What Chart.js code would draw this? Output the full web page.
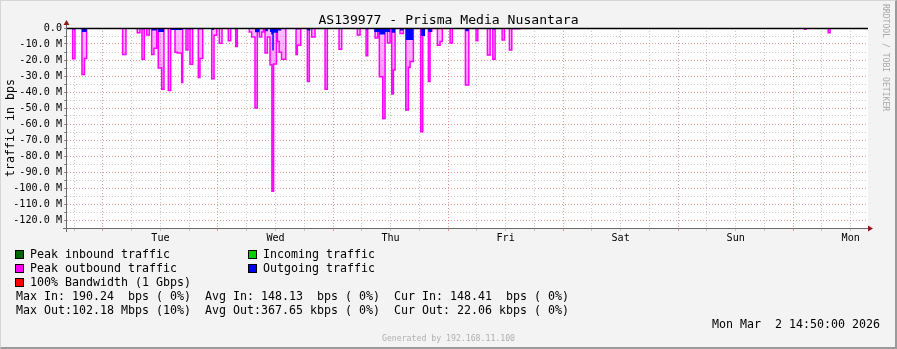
<!DOCTYPE html>
<html>
<head>
<meta charset="utf-8">
<title>AS139977 - Prisma Media Nusantara</title>
<script src="https://cdn.jsdelivr.net/npm/chart.js@4.4.1/dist/chart.umd.min.js"></script>
<style>
  html, body { margin: 0; padding: 0; background: #f3f3f3; }
  #myChart { position: absolute; left: 0; top: 0; }
  #frame { position: absolute; left: 0; top: 0; width: 897px; height: 349px; box-sizing: border-box;
           border-top: 1px solid #d6d6d6; border-left: 1px solid #d6d6d6;
           border-right: 2px solid #9a9a9a; border-bottom: 2px solid #9a9a9a; pointer-events: none; }
  .txt { position: absolute; font-family: 'DejaVu Sans Mono', monospace; font-size: 11.63px;
         line-height: 14px; color: #000; white-space: pre; }
  .box { position: absolute; width: 7px; height: 7px; border: 1px solid #000; }
  #title { left: 0; width: 897px; top: 12px; text-align: center; font-size: 13.1px; line-height: 15px; }
  #mark { left: 881px; top: 4px; font-size: 8.1px; line-height: 9px; color: #a8a8a8; writing-mode: vertical-rl; }
  #gen { left: 0; width: 897px; top: 333px; text-align: center; font-size: 8.2px; line-height: 10px; color: #b0b0b0; }
</style>
</head>
<body>
<canvas id="myChart" width="897" height="349"></canvas>

<div class="txt" id="title">AS139977 - Prisma Media Nusantara</div>
<div class="txt" id="mark">RRDTOOL / TOBI OETIKER</div>

<div class="box" style="left:15px;top:250px;background:#006600"></div>
<div class="txt" style="left:30px;top:247px">Peak inbound traffic</div>
<div class="box" style="left:248px;top:250px;background:#00cc00"></div>
<div class="txt" style="left:263px;top:247px">Incoming traffic</div>
<div class="box" style="left:15px;top:264px;background:#ff00ff"></div>
<div class="txt" style="left:30px;top:261px">Peak outbound traffic</div>
<div class="box" style="left:248px;top:264px;background:#0000ff"></div>
<div class="txt" style="left:263px;top:261px">Outgoing traffic</div>
<div class="box" style="left:15px;top:278px;background:#ff0000"></div>
<div class="txt" style="left:30px;top:275px">100% Bandwidth (1 Gbps)</div>
<div class="txt" style="left:16px;top:289px">Max In: 190.24  bps ( 0%)  Avg In: 148.13  bps ( 0%)  Cur In: 148.41  bps ( 0%)</div>
<div class="txt" style="left:16px;top:303px">Max Out:102.18 Mbps (10%)  Avg Out:367.65 kbps ( 0%)  Cur Out: 22.06 kbps ( 0%)</div>
<div class="txt" style="right:17px;top:317px">Mon Mar  2 14:50:00 2026</div>
<div class="txt" id="gen">Generated by 192.168.11.100</div>
<div id="frame"></div>

<script>
// x values are hours counted from Tue 00:00, graph ends Mon 14:50
const dayNames = ['Tue', 'Wed', 'Thu', 'Fri', 'Sat', 'Sun', 'Mon'];
const xStart = -7.5;
const xEnd = 159.6;

// peak outbound (Mbit/s, drawn negative), each value holds until the next time
const peakOutTimes = [-7.5, -6.32, -5.84, -4.38, -3.86, -3.4, 4.11, 4.8, 7.16, 7.72, 8.14, 8.62, 9.12, 9.66,
  10.16, 10.64, 11.21, 11.54, 12.25, 12.73, 13.63, 14.13, 15.03, 15.51, 16.42, 16.63, 17.32, 17.74, 18.16, 18.72,
  19.89, 20.24, 20.81, 22.69, 23.17, 23.73, 24.27, 24.84, 26.15, 26.65, 27.69, 28.03, 30.53, 31.03, 31.72, 32.2,
  32.62, 33.12, 33.5, 33.81, 34.29, 34.85, 35.25, 35.6, 36.2, 36.4, 36.75, 37.25, 38.15, 40.28, 40.55, 41.26,
  42.64, 43.05, 43.55, 44.24, 46.33, 46.81, 49.25, 49.81, 53.07, 53.64, 54.89, 55.24, 56.77, 57.33, 57.66, 58.37,
  58.85, 59.33, 59.9, 60.25, 60.59, 60.94, 61.98, 62.67, 63.17, 63.72, 64.07, 64.76, 66.3, 66.72, 67.89, 68.24,
  68.6, 69.77, 70.33, 70.8, 72.42, 72.9, 75.61, 76.32, 77.84, 78.2, 80.2, 80.77, 81.33, 81.81, 83.27, 83.75,
  84.79, 85.29, 87.0, 146.4, 146.7, 151.3, 151.7, 159.6];
const peakOutValues = [0, -19.2, 0, -29, -19, 0, -16.5, 0, -3, 0, -19.6, 0, -4.4, 0,
  -16.5, -12.7, 0, -25, -38.3, 0, -39, 0, -15.2, -15.6, -34, 0, -13.7, 0, -22.7, 0,
  -31, -19, 0, -31.7, -4.6, 0, -9.6, 0, -8, 0, -11.5, 0, -2.5, -5.6, -50, 0,
  -5.6, -2.5, 0, -15.6, -5.6, -23, -102, -22.5, -1, -8.5, -15.2, -19.6, 0, -16.5, -10.8, 0,
  -33.5, 0, -5.6, 0, -38.3, 0, -13.3, 0, -4.4, 0, -17.3, 0, -6.3, 0, -30.4, -56.5,
  -2, -9.4, 0, -41.3, -26.3, 0, -3.5, 0, -51.3, -24.6, -21, 0, -64.8, 0, -33.5, -2,
  0, -10.8, -8.5, 0, -9.4, 0, -35.6, 0, -8, 0, -16.9, 0, -19.6, 0, -7.5, 0,
  -13.7, -0.5, 0, -0.8, 0, -3, 0, 0];

// outgoing traffic average (Mbit/s, drawn negative)
const avgOutTimes = [-7.5, -6.32, -5.84, -4.38, -3.4, 4.11, 4.8, 8.14, 8.62, 10.16, 11.21, 11.54, 12.73, 14.13,
  16.63, 17.74, 18.72, 19.89, 20.81, 22.69, 23.17, 27.69, 28.03, 31.72, 32.62, 33.81, 34.4, 34.85, 35.1, 35.33,
  35.63, 36.5, 37.2, 40.28, 41.26, 42.64, 43.26, 54.89, 55.24, 56.6, 57.66, 58.85, 59.9, 60.25, 60.94, 61.98,
  62.67, 63.17, 64.76, 66.3, 67.2, 67.89, 68.6, 75.61, 76.32, 81.33, 81.81, 159.6];
const avgOutValues = [0, -1, 0, -2.5, 0, -0.5, 0, -0.8, 0, -1.5, -0.5, -2.5, 0, -1.2,
  0, -0.8, 0, -0.8, 0, -1.3, 0, -0.8, 0, -2.6, 0, -2, 0, -2.5, -4, -14,
  -3, -1.5, 0, -0.8, 0, -1.5, 0, -1, 0, -2.5, -4, -2.5, 0, -3, 0, -1.5,
  0, -7.5, 0, -5, 0, -2.5, 0, -2, 0, -1, 0, 0];

const redGrid = 'rgba(200,60,60,0.5)';
const grayGrid = 'rgba(140,140,140,0.45)';
const monoFont = 'DejaVu Sans Mono';

const peakOut = peakOutTimes.map((t, i) => ({ x: t, y: peakOutValues[i] }));
const avgOut = avgOutTimes.map((t, i) => ({ x: t, y: avgOutValues[i] }));

// white canvas, zero line, axes and arrows like rrdtool
const rrdLook = {
  id: 'rrdLook',
  beforeDraw(chart) {
    const a = chart.chartArea, c = chart.ctx;
    c.save();
    c.fillStyle = '#ffffff';
    c.fillRect(a.left, a.top, a.right - a.left, a.bottom - a.top);
    c.restore();
  },
  afterDatasetsDraw(chart) {
    const a = chart.chartArea, c = chart.ctx;
    const y0 = Math.round(chart.scales.y.getPixelForValue(0)) + 0.5;
    c.save();
    c.strokeStyle = '#000';
    c.lineWidth = 1.6;
    c.beginPath(); c.moveTo(a.left, y0); c.lineTo(a.right, y0); c.stroke();

    c.strokeStyle = '#6a6a6a';
    c.lineWidth = 1;
    c.beginPath();
    c.moveTo(a.left - 0.5, a.bottom + 4); c.lineTo(a.left - 0.5, a.top - 4);
    c.moveTo(a.left - 4, a.bottom + 0.5); c.lineTo(a.right + 1, a.bottom + 0.5);
    c.stroke();

    c.fillStyle = '#8c1c1c';
    c.beginPath();
    c.moveTo(a.left - 3.5, a.top - 3); c.lineTo(a.left + 2.5, a.top - 3); c.lineTo(a.left - 0.5, a.top - 8);
    c.closePath(); c.fill();
    c.beginPath();
    c.moveTo(a.right, a.bottom - 2.5); c.lineTo(a.right, a.bottom + 3.5); c.lineTo(a.right + 5, a.bottom + 0.5);
    c.closePath(); c.fill();
    c.restore();
  }
};

const ctx = document.getElementById('myChart').getContext('2d');
const myChart = new Chart(ctx, {
  type: 'line',
  data: {
    datasets: [
      {
        label: 'Outgoing traffic',
        data: avgOut,
        stepped: true,
        fill: 'origin',
        backgroundColor: '#0000ff',
        borderColor: 'rgba(0,0,0,0)',
        borderWidth: 0,
        pointRadius: 0
      },
      {
        label: 'Peak outbound traffic',
        data: peakOut,
        stepped: true,
        fill: 'origin',
        borderColor: '#ff00ff',
        borderWidth: 1.5,
        pointRadius: 0,
        backgroundColor: (c) => {
          const area = c.chart.chartArea;
          if (!area) return 'rgba(255,0,255,0.4)';
          const g = c.chart.ctx.createLinearGradient(0, area.top, 0, area.bottom);
          g.addColorStop(0, 'rgba(255,0,255,0.25)');
          g.addColorStop(0.4, 'rgba(255,0,255,0.5)');
          g.addColorStop(1, 'rgba(255,0,255,0.95)');
          return g;
        }
      }
    ]
  },
  options: {
    responsive: false,
    animation: false,
    devicePixelRatio: 1,
    layout: { padding: { top: 28, right: 29, left: 0, bottom: 0 } },
    plugins: { legend: { display: false }, tooltip: { enabled: false } },
    scales: {
      x: {
        type: 'linear',
        min: xStart,
        max: xEnd,
        afterFit(s) { s.height = 121; },
        ticks: {
          stepSize: 6,
          includeBounds: false,
          autoSkip: false,
          maxRotation: 0,
          padding: 1,
          color: '#000',
          font: { family: monoFont, size: 10.15 },
          callback: (v) => (v % 24 === 12 ? dayNames[(v - 12) / 24] : '')
        },
        grid: {
          color: (c) => (c.tick && c.tick.value % 24 === 0 ? redGrid : grayGrid),
          tickColor: (c) => (c.tick && c.tick.value % 24 === 0 ? redGrid : grayGrid),
          tickLength: 3
        },
        border: { display: false, dash: [1, 2] }
      },
      y: {
        min: -125,
        max: 0,
        afterFit(s) { s.width = 67; },
        title: {
          display: true,
          text: 'traffic in bps',
          color: '#000',
          padding: { top: 4, bottom: 0 },
          font: { family: monoFont, size: 11.63 }
        },
        ticks: {
          stepSize: 5,
          includeBounds: false,
          autoSkip: false,
          padding: 2,
          color: '#000',
          font: { family: monoFont, size: 10.15 },
          callback: (v) => (v === 0 ? '0.0' : (v % 10 === 0 ? v.toFixed(1) + ' M' : ''))
        },
        grid: {
          color: (c) => (c.tick && c.tick.value % 10 === 0 ? redGrid : grayGrid),
          tickColor: '#8a8a8a',
          tickLength: 3
        },
        border: { display: false, dash: [1, 2] }
      }
    }
  },
  plugins: [rrdLook]
});
</script>
</body>
</html>
